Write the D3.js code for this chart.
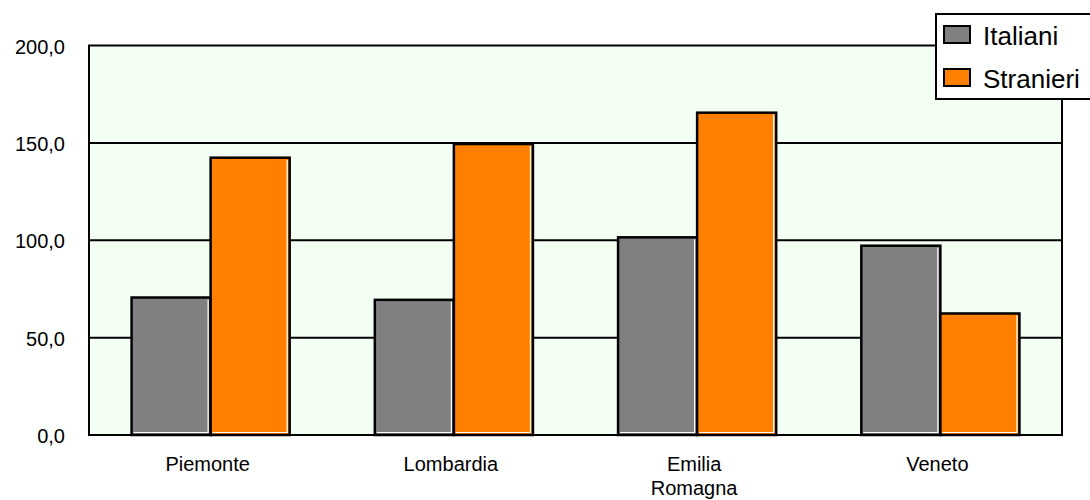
<!DOCTYPE html>
<html><head><meta charset="utf-8">
<script src="https://cdn.jsdelivr.net/npm/d3@7"></script>
<style>body{margin:0;background:#fff;} svg{display:block;font-family:"Liberation Sans",Arial,sans-serif;}</style>
</head><body><svg id="c" width="1090" height="500"></svg>
<script>
const categories = [["Piemonte"], ["Lombardia"], ["Emilia", "Romagna"], ["Veneto"]];
const seriesNames = ["Italiani", "Stranieri"];
const italiani = [70.6, 69.4, 101.5, 97.2];
const stranieri = [142.4, 149.4, 165.5, 62.4];
const yTicks = [0, 50, 100, 150, 200];
const colors = ["#808080", "#FF8000"];

const svg = d3.select("#c");
const L = 89, R = 1062, T = 45.5, B = 435;
const catKeys = categories.map(c => c.join(" "));
const x = d3.scaleBand().domain(catKeys).range([L, R]).paddingInner(0.35).paddingOuter(0.175);
const xs = d3.scaleBand().domain(seriesNames).range([0, x.bandwidth()]);
const y = d3.scaleLinear().domain([0, 200]).range([B, T]);
const fmt = v => d3.format(".1f")(v).replace(".", ",");

svg.append("rect").attr("x", L).attr("y", T).attr("width", R - L).attr("height", B - T).attr("fill", "#F4FFF4");

// gridlines
svg.append("g").selectAll("line").data(yTicks.filter(d => d > 0 && d < 200)).join("line")
  .attr("x1", L).attr("x2", R).attr("y1", d => y(d)).attr("y2", d => y(d))
  .attr("stroke", "#000").attr("stroke-width", 2);

// y labels
svg.append("g").selectAll("text").data(yTicks).join("text")
  .attr("x", 65).attr("y", d => y(d) + 8).attr("text-anchor", "end")
  .attr("font-size", 20).attr("fill", "#000").text(fmt);

// bars
const data = [];
catKeys.forEach((c, i) => {
  data.push({c, s: seriesNames[0], v: italiani[i], col: colors[0]});
  data.push({c, s: seriesNames[1], v: stranieri[i], col: colors[1]});
});
const g = svg.append("g");
data.forEach(d => {
  const x0 = x(d.c) + xs(d.s), w = xs.bandwidth(), y0 = y(d.v);
  g.append("rect").attr("x", x0).attr("y", y0).attr("width", w).attr("height", B - y0)
    .attr("fill", d.col).attr("stroke", "#000").attr("stroke-width", 2.5);
  g.append("polyline").attr("points", `${x0 + w - 2.5},${y0 + 2} ${x0 + w - 2.5},${B - 2.5} ${x0 + 2},${B - 2.5}`)
    .attr("fill", "none").attr("stroke", "#fff").attr("stroke-width", 1.2);
});

// frame
svg.append("rect").attr("x", L).attr("y", T).attr("width", R - L).attr("height", B - T)
  .attr("fill", "none").attr("stroke", "#000").attr("stroke-width", 2);

// x labels
const xl = svg.append("g");
categories.forEach((lines, i) => {
  const t = xl.append("text").attr("text-anchor", "middle").attr("font-size", 20).attr("fill", "#000")
    .attr("x", x(catKeys[i]) + x.bandwidth() / 2 - 3).attr("y", 471);
  lines.forEach((ln, j) => t.append("tspan").attr("x", x(catKeys[i]) + x.bandwidth() / 2 - 3).attr("dy", j ? 24 : 0).text(ln));
});

// legend
const lg = svg.append("g");
lg.append("rect").attr("x", 936).attr("y", 14).attr("width", 170).attr("height", 85)
  .attr("fill", "#fff").attr("stroke", "#000").attr("stroke-width", 2);
seriesNames.forEach((s, i) => {
  const yy = 26 + i * 43;
  lg.append("rect").attr("x", 944).attr("y", yy).attr("width", 26).attr("height", 17)
    .attr("fill", colors[i]).attr("stroke", "#000").attr("stroke-width", 2);
  lg.append("text").attr("x", 983).attr("y", yy + 19).attr("font-size", 26).attr("fill", "#000").text(s);
});
</script></body></html>
